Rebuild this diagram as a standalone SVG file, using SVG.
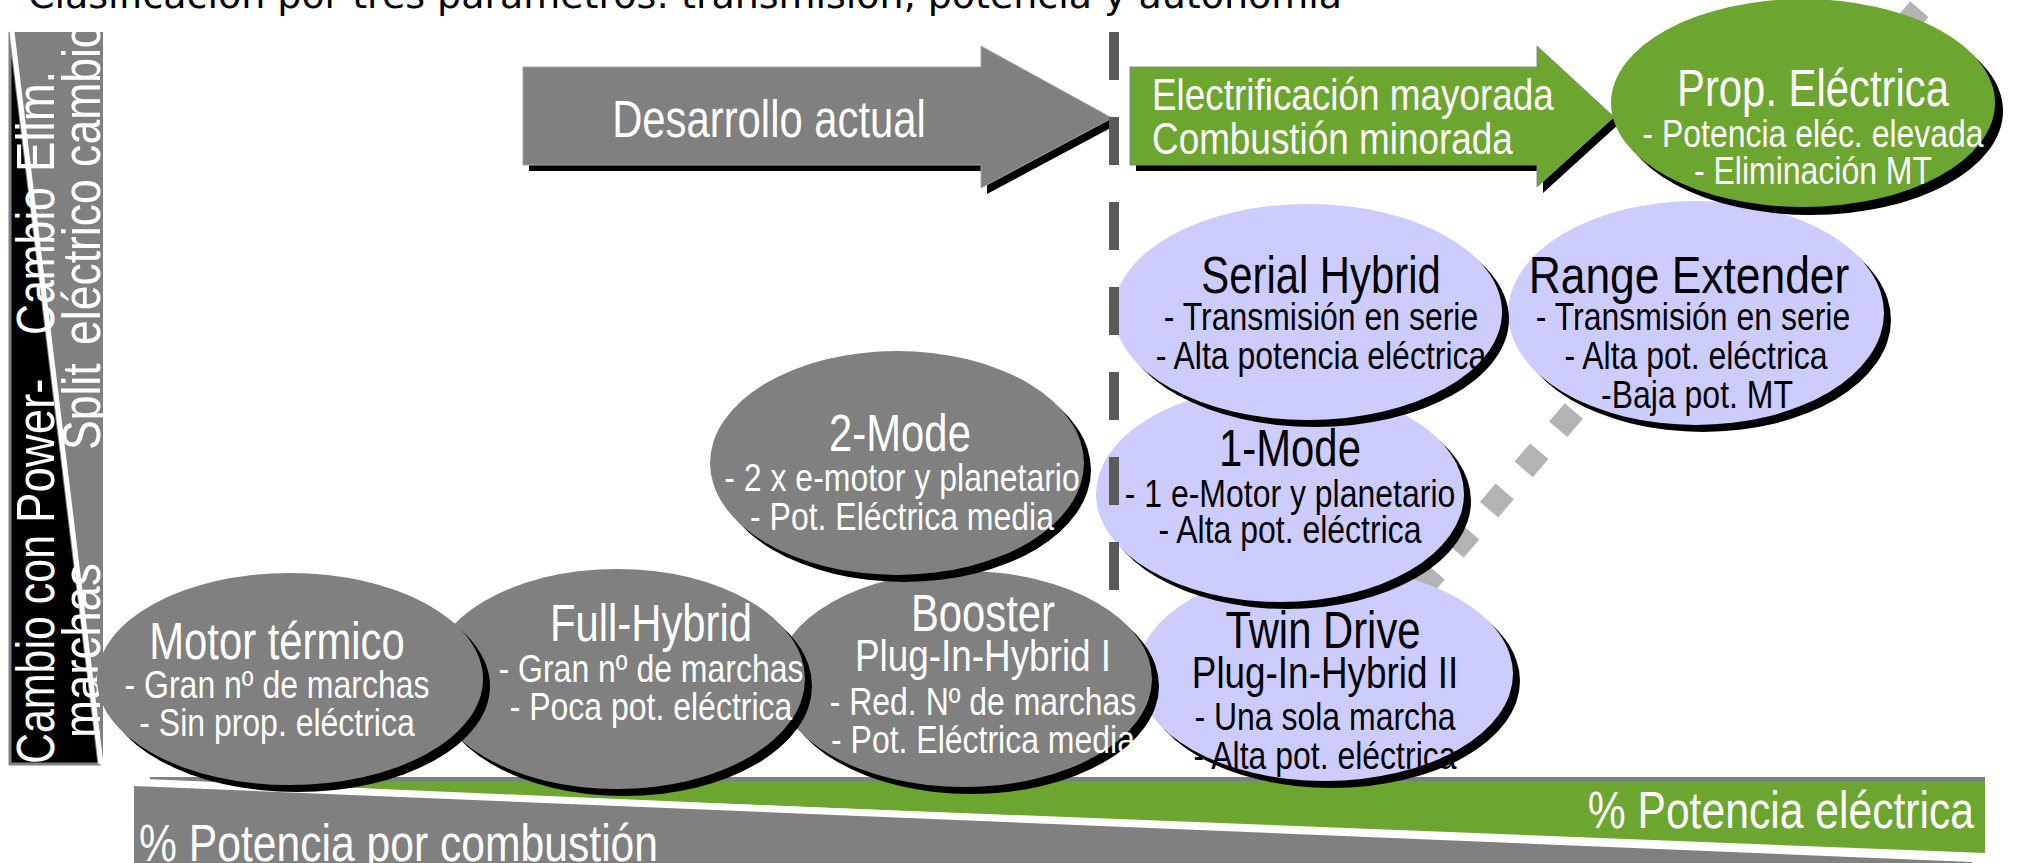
<svg xmlns="http://www.w3.org/2000/svg" width="2023" height="863" viewBox="0 0 2023 863">
<style>
 text{font-family:"Liberation Sans",Arial,sans-serif}
 .t{font-size:51px;text-anchor:middle}
 .m{font-size:45px;text-anchor:middle}
 .s{font-size:39px;text-anchor:middle}
 .w{fill:#fff}
 .k{fill:#000}
 .sh{fill:#000}
 .g{fill:#808080}
 .l{fill:#ccccff}
 .gr{fill:#6ca530}
 .vl{font-size:53px;fill:#fff}
 .bt{font-size:52px;fill:#fff}
</style>
<rect width="2023" height="863" fill="#fff"/>
<text x="28" y="8" style="font-family:'DejaVu Sans',sans-serif;font-size:38px" textLength="1314" fill="#000">Clasificación por tres parámetros: transmisión, potencia y autonomía</text>

<g id="bottom-band">
 <polygon points="134,786 1972,862 1972,863 134,863" fill="#808080"/>
 <polygon points="145,781 1985,781 1985,853" fill="#6ca530"/>
 <line x1="150" y1="779" x2="1985" y2="779" stroke="#808080" stroke-width="4"/>
 <line x1="134" y1="781" x2="1975" y2="859" stroke="#fff" stroke-width="5"/>
 <text class="bt" transform="translate(1974,828) scale(.82,1)" text-anchor="end">% Potencia eléctrica</text>
 <text class="bt" transform="translate(139,861) scale(.82,1)">% Potencia por combustión</text>
</g>

<g id="left-bar">
 <rect x="10" y="32" width="93" height="732" fill="#808080"/>
 <polygon points="10,32 10,764 99,764" fill="#000" stroke="#808080" stroke-width="3"/>
 <line x1="12" y1="32" x2="101" y2="764" stroke="#fff" stroke-width="5"/>
 <text class="vl" transform="translate(54,764) rotate(-90) scale(.81,1)">Cambio con</text>
 <text class="vl" transform="translate(54,523) rotate(-90) scale(.86,1)">Power-</text>
 <text class="vl" transform="translate(54,335) rotate(-90) scale(.81,1)">Cambio</text>
 <text class="vl" transform="translate(54,172) rotate(-90) scale(.86,1)">Elim.</text>
 <text class="vl" transform="translate(100,738) rotate(-90) scale(.86,1)">marchas</text>
 <text class="vl" transform="translate(100,450) rotate(-90) scale(.84,1)">Split</text>
 <text class="vl" transform="translate(100,345) rotate(-90) scale(.84,1)">eléctrico cambio</text>
</g>

<g id="arrow-desarrollo">
 <polygon points="529,73 987,73 987,52 1118,124 987,194 987,171 529,171" fill="#000"/>
 <polygon points="523,67 981,67 981,46 1112,118 981,188 981,165 523,165" fill="#808080" stroke="#a6a6a6" stroke-width="1"/>
 <text class="t w" transform="translate(769,137) scale(.82,1)">Desarrollo actual</text>
</g>

<g id="arrow-electrificacion">
 <polygon points="1136,73 1543,73 1543,52 1620,123 1543,193 1543,171 1136,171" fill="#000"/>
 <polygon points="1130,67 1537,67 1537,46 1614,117 1537,187 1537,165 1130,165" fill="#6ca530" stroke="#8a8a8a" stroke-width="1"/>
 <text class="w" style="font-size:45px" transform="translate(1152,110) scale(.82,1)">Electrificación mayorada</text>
 <text class="w" style="font-size:45px" transform="translate(1152,154) scale(.82,1)">Combustión minorada</text>
</g>

<g id="connectors">
 <line x1="1420" y1="590" x2="1989" y2="-72" stroke="#b3b3b3" stroke-width="24" stroke-dasharray="24 29"/>
</g>

<g id="range-extender">
 <ellipse cx="1703" cy="320" rx="188" ry="112" class="sh"/>
 <ellipse cx="1696" cy="313" rx="188" ry="112" class="l"/>
 <text class="t k" transform="translate(1689,293) scale(.87,1)">Range Extender</text>
 <text class="s k" transform="translate(1693,330) scale(.82,1)">- Transmisión en serie</text>
 <text class="s k" transform="translate(1696,369) scale(.82,1)">- Alta pot. eléctrica</text>
 <text class="s k" transform="translate(1697,408) scale(.82,1)">-Baja pot. MT</text>
</g>

<g id="prop-electrica">
 <ellipse cx="1811" cy="111" rx="192" ry="104" class="sh"/>
 <ellipse cx="1803" cy="103" rx="192" ry="104" class="gr"/>
 <text class="t w" transform="translate(1813,106) scale(.82,1)">Prop. Eléctrica</text>
 <text class="s w" transform="translate(1813,147) scale(.82,1)">- Potencia eléc. elevada</text>
 <text class="s w" transform="translate(1813,184) scale(.82,1)">- Eliminación MT</text>
</g>

<g id="twin-drive">
 <ellipse cx="1332" cy="681" rx="188" ry="107" class="sh"/>
 <ellipse cx="1325" cy="674" rx="188" ry="107" class="l"/>
 <text class="t k" transform="translate(1323,648) scale(.82,1)">Twin Drive</text>
 <text class="m k" transform="translate(1325,688) scale(.82,1)">Plug-In-Hybrid II</text>
 <text class="s k" transform="translate(1325,730) scale(.82,1)">- Una sola marcha</text>
 <text class="s k" transform="translate(1325,769) scale(.82,1)">- Alta pot. eléctrica</text>
</g>

<g id="one-mode">
 <ellipse cx="1287" cy="501" rx="184" ry="108" class="sh"/>
 <ellipse cx="1280" cy="494" rx="184" ry="108" class="l"/>
 <text class="t k" transform="translate(1290,466) scale(.82,1)">1-Mode</text>
 <text class="s k" transform="translate(1290,507) scale(.82,1)">- 1 e-Motor y planetario</text>
 <text class="s k" transform="translate(1290,543) scale(.82,1)">- Alta pot. eléctrica</text>
</g>

<g id="serial-hybrid">
 <ellipse cx="1315" cy="319" rx="194" ry="108" class="sh"/>
 <ellipse cx="1308" cy="312" rx="194" ry="108" class="l"/>
 <text class="t k" transform="translate(1321,293) scale(.82,1)">Serial Hybrid</text>
 <text class="s k" transform="translate(1321,330) scale(.82,1)">- Transmisión en serie</text>
 <text class="s k" transform="translate(1321,369) scale(.82,1)">- Alta potencia eléctrica</text>
</g>

<g id="booster">
 <ellipse cx="971" cy="686" rx="188" ry="108" class="sh"/>
 <ellipse cx="964" cy="679" rx="188" ry="108" class="g"/>
 <text class="t w" transform="translate(983,631) scale(.82,1)">Booster</text>
 <text class="m w" transform="translate(983,671) scale(.82,1)">Plug-In-Hybrid I</text>
 <text class="s w" transform="translate(983,715) scale(.82,1)">- Red. Nº de marchas</text>
 <text class="s w" transform="translate(983,753) scale(.82,1)">- Pot. Eléctrica media</text>
</g>

<g id="two-mode">
 <ellipse cx="904" cy="470" rx="187" ry="112" class="sh"/>
 <ellipse cx="897" cy="463" rx="187" ry="112" class="g"/>
 <text class="t w" transform="translate(900,451) scale(.82,1)">2-Mode</text>
 <text class="s w" transform="translate(902,491) scale(.82,1)">- 2 x e-motor y planetario</text>
 <text class="s w" transform="translate(902,530) scale(.82,1)">- Pot. Eléctrica media</text>
</g>

<g id="full-hybrid">
 <ellipse cx="624" cy="686" rx="188" ry="110" class="sh"/>
 <ellipse cx="617" cy="679" rx="188" ry="110" class="g"/>
 <text class="t w" transform="translate(651,641) scale(.82,1)">Full-Hybrid</text>
 <text class="s w" transform="translate(651,682) scale(.82,1)">- Gran nº de marchas</text>
 <text class="s w" transform="translate(651,720) scale(.82,1)">- Poca pot. eléctrica</text>
</g>

<g id="motor-termico">
 <ellipse cx="297" cy="686" rx="193" ry="106" class="sh"/>
 <ellipse cx="290" cy="679" rx="193" ry="106" class="g"/>
 <text class="t w" transform="translate(277,659) scale(.82,1)">Motor térmico</text>
 <text class="s w" transform="translate(277,698) scale(.82,1)">- Gran nº de marchas</text>
 <text class="s w" transform="translate(277,736) scale(.82,1)">- Sin prop. eléctrica</text>
</g>

<g id="divider">
 <line x1="1114" y1="32" x2="1114" y2="590" stroke="#5a5a5a" stroke-width="10" stroke-dasharray="48 37"/>
</g>
</svg>
